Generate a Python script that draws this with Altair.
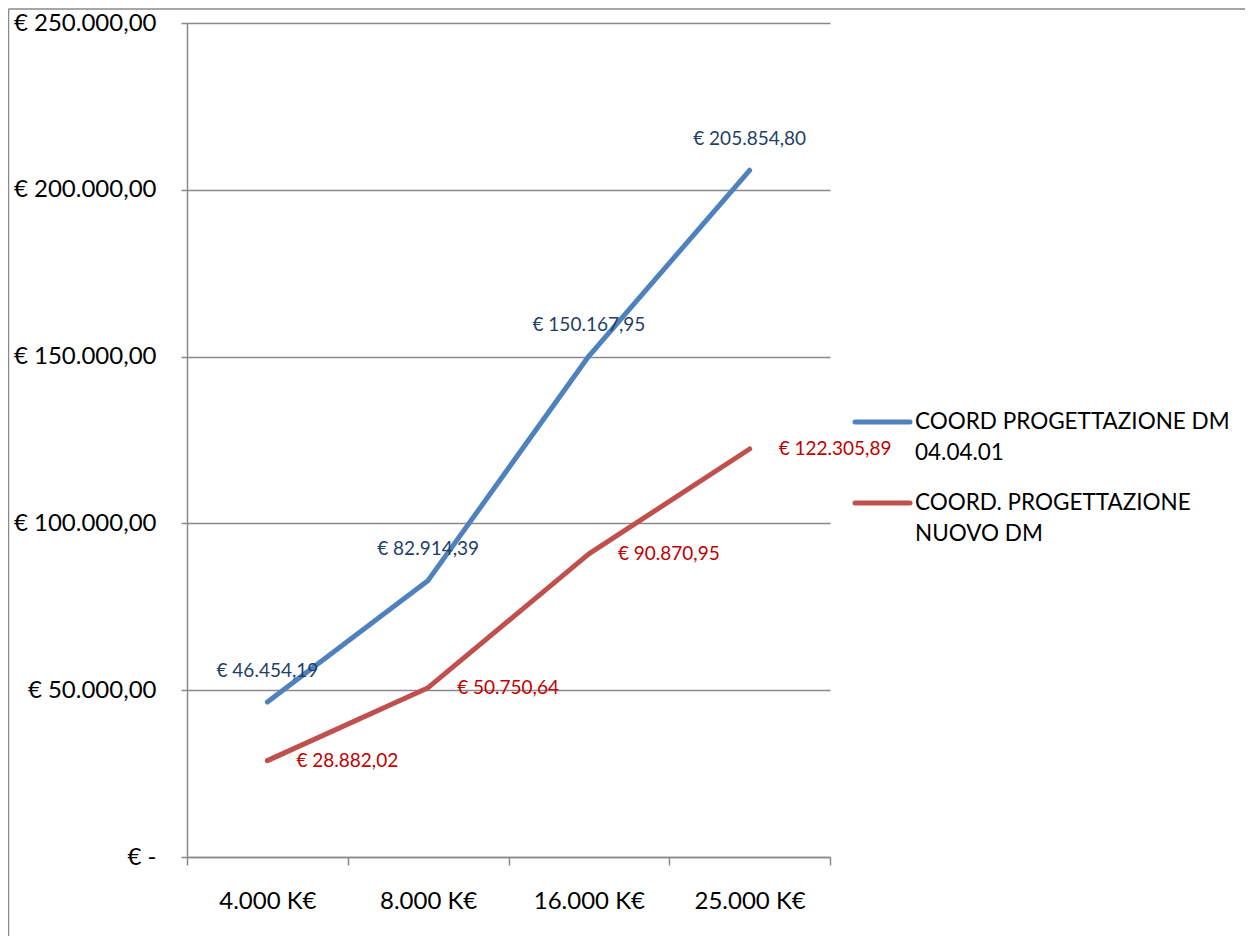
import altair as alt
import pandas as pd

categories = ["4.000 K€", "8.000 K€", "16.000 K€", "25.000 K€"]
series_names = ["COORD PROGETTAZIONE DM 04.04.01", "COORD. PROGETTAZIONE NUOVO DM"]
legend_texts = ["COORD PROGETTAZIONE DM\n04.04.01", "COORD. PROGETTAZIONE\nNUOVO DM"]
values_dm_040401 = [46454.19, 82914.39, 150167.95, 205854.80]
values_nuovo_dm = [28882.02, 50750.64, 90870.95, 122305.89]
y_tick_values = [0, 50000, 100000, 150000, 200000, 250000]
y_tick_labels = ["€ -\u00a0\u00a0", "€ 50.000,00", "€ 100.000,00", "€ 150.000,00",
                 "€ 200.000,00", "€ 250.000,00"]
line_colors = ["#4F81BD", "#C0504D"]
label_colors = ["#1F3F66", "#C00000"]

FONT = "Lato"
GRAY = "#8a8a8a"


def eur(v):
    s = f"{v:,.2f}"
    s = s.replace(",", "X").replace(".", ",").replace("X", ".")
    return "€ " + s


rows = []
for name, vals in zip(series_names, [values_dm_040401, values_nuovo_dm]):
    for c, v in zip(categories, vals):
        rows.append({"category": c, "series": name, "value": v, "label": eur(v)})
df = pd.DataFrame(rows)

label_expr = ""
for v, l in zip(y_tick_values, y_tick_labels):
    label_expr += f"datum.value == {v} ? '{l}' : "
label_expr += "''"

x_enc = alt.X(
    "category:N", sort=categories,
    scale=alt.Scale(type="band", paddingInner=0, paddingOuter=0),
    axis=alt.Axis(title=None, labelAngle=0, tickBand="extent", tickSize=8,
                  tickColor=GRAY, domainColor=GRAY, tickWidth=1.5, domainWidth=1.5,
                  labelFont=FONT, labelFontSize=24, labelColor="black",
                  labelPadding=24, grid=False),
)
y_enc = alt.Y(
    "value:Q", scale=alt.Scale(domain=[0, 250000], nice=False),
    axis=alt.Axis(title=None, values=y_tick_values, labelExpr=label_expr,
                  tickSize=6, tickColor=GRAY, tickWidth=1.5,
                  domainColor=GRAY, domainWidth=1.5,
                  grid=True, gridColor=GRAY, gridWidth=1.5,
                  labelFont=FONT, labelFontSize=24, labelColor="black",
                  labelPadding=25),
)

lines = alt.Chart(df).mark_line(strokeWidth=5, strokeCap="round", strokeJoin="round").encode(
    x=x_enc, y=y_enc,
    color=alt.Color("series:N", scale=alt.Scale(domain=series_names, range=line_colors), legend=None),
)

blue_labels = alt.Chart(df).transform_filter(
    alt.datum.series == series_names[0]
).mark_text(dy=-31, align="center", baseline="middle", font=FONT, fontSize=19,
            color=label_colors[0]).encode(x=alt.X("category:N", sort=categories),
                                          y="value:Q", text="label:N")

red_labels = alt.Chart(df).transform_filter(
    alt.datum.series == series_names[1]
).mark_text(dx=29, align="left", baseline="middle", font=FONT, fontSize=19,
            color=label_colors[1]).encode(x=alt.X("category:N", sort=categories),
                                          y="value:Q", text="label:N")

leg_df = pd.DataFrame({"series": series_names, "text": legend_texts})
legend_layers = []
for i, name in enumerate(series_names):
    yy = 399 + 81 * i
    base = alt.Chart(leg_df).transform_filter(alt.datum.series == name)
    legend_layers.append(
        base.mark_rule(strokeWidth=5, strokeCap="round", color=line_colors[i]).encode(
            x=alt.value(668), x2=alt.value(723), y=alt.value(yy))
    )
    legend_layers.append(
        base.mark_text(align="left", baseline="middle", lineBreak="\n", lineHeight=31,
                       font=FONT, fontSize=22.5, color="black").encode(
            x=alt.value(728), y=alt.value(yy), text="text:N")
    )

frame_df = pd.DataFrame({"k": [0]})
frame = [
    alt.Chart(frame_df).mark_rule(color=GRAY, strokeWidth=1.5).encode(
        x=alt.value(-178.5), y=alt.value(-14), y2=alt.value(950)),
    alt.Chart(frame_df).mark_rule(color=GRAY, strokeWidth=1.5).encode(
        x=alt.value(-178.5), x2=alt.value(1100), y=alt.value(-14)),
]

chart = alt.layer(lines, blue_labels, red_labels, *legend_layers, *frame).properties(
    width=643, height=834,
    padding={"left": 179, "top": 15, "right": 415, "bottom": 79},
    autosize=alt.AutoSizeParams(type="none"),
).configure_view(stroke=None)

chart.save("out.html", embed_options={"renderer": "svg", "actions": False})
